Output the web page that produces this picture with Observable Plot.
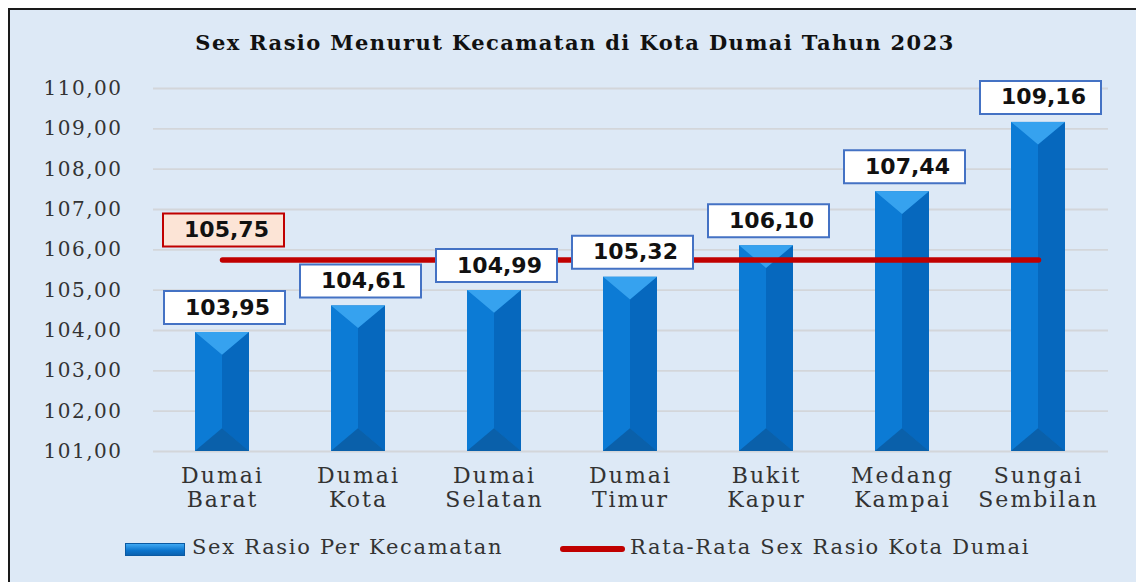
<!DOCTYPE html>
<html><head><meta charset="utf-8">
<script src="https://cdn.jsdelivr.net/npm/d3@7"></script>
<script src="https://cdn.jsdelivr.net/npm/@observablehq/plot@0.6"></script>
<style>
html,body{margin:0;padding:0;background:#fff;}
#wrap{position:relative;width:1136px;height:582px;overflow:hidden;}
#frame{position:absolute;left:8px;top:8px;width:1140px;height:590px;background:#dde9f6;border-left:2px solid #1a1a1a;border-top:2px solid #1a1a1a;}
#title{position:absolute;left:0;width:1150px;text-align:center;top:30px;font:bold 21px "DejaVu Serif",serif;letter-spacing:1.4px;color:#111;}
#chart{position:absolute;left:0;top:0;}
#chart svg g[aria-label="y-axis tick label"] text{letter-spacing:1.5px;}
#chart svg g[aria-label="x-axis tick label"] text{letter-spacing:2px;}
.leg{position:absolute;font:21px "DejaVu Serif",serif;letter-spacing:1.7px;color:#333;white-space:nowrap;}
#sw1{position:absolute;left:125px;top:543px;width:58px;height:11px;background:linear-gradient(to bottom,#3fa8f2,#0b74cc 60%,#0a62b0);border:1px solid #0a5aa3;}
#sw2{position:absolute;left:560px;top:546px;width:65px;height:6px;background:#c00000;border-radius:3px;}
</style></head>
<body>
<div id="wrap">
  <div id="frame"></div>
  <div id="title"></div>
  <div id="chart"></div>
  <div id="sw1"></div><div class="leg" id="l1" style="left:192px;top:535px;"></div>
  <div id="sw2"></div><div class="leg" id="l2" style="left:630px;top:535px;"></div>
</div>
<script>
const title = "Sex Rasio Menurut Kecamatan di Kota Dumai Tahun 2023";
const categories = ["Dumai Barat","Dumai Kota","Dumai Selatan","Dumai Timur","Bukit Kapur","Medang Kampai","Sungai Sembilan"];
const values = [103.95,104.61,104.99,105.32,106.10,107.44,109.16];
const average = 105.75;
const yTicks = [101,102,103,104,105,106,107,108,109,110];
const seriesNames = ["Sex Rasio Per Kecamatan","Rata-Rata Sex Rasio Kota Dumai"];

document.getElementById("title").textContent = title;
document.getElementById("l1").textContent = seriesNames[0];
document.getElementById("l2").textContent = seriesNames[1];

const data = categories.map((c,i) => ({cat:c, v:values[i]}));
const avgData = [{cat:categories[0], v:average},{cat:categories[categories.length-1], v:average}];
const fmt = d => d.toFixed(2).replace(".", ",");

const boxSymbol = {draw(ctx){ ctx.moveTo(-60.5,-16.5); ctx.lineTo(60.5,-16.5); ctx.lineTo(60.5,16.5); ctx.lineTo(-60.5,16.5); ctx.closePath(); }};

const ns = "http://www.w3.org/2000/svg";
function poly(g, pts, fill){
  const p = document.createElementNS(ns,"polygon");
  p.setAttribute("points", pts.map(q=>q.join(",")).join(" "));
  p.setAttribute("fill", fill);
  g.appendChild(p);
}

const chart = Plot.plot({
  width: 1136,
  height: 520,
  marginLeft: 153,
  marginRight: 28,
  marginTop: 88,
  marginBottom: 69,
  style: {background:"transparent", fontFamily:"'DejaVu Serif', serif", overflow:"visible"},
  x: {domain: categories, paddingInner: 0.6, paddingOuter: 0.3, label: null},
  y: {domain: [yTicks[0], yTicks[yTicks.length-1]], label: null},
  marks: [
    Plot.ruleY(yTicks, {stroke:"#d3d6da", strokeWidth:1.8}),
    Plot.axisY({ticks: yTicks, tickFormat: fmt, tickSize: 0, tickPadding: 31, fontSize: 20, fill:"#333", label: null}),
    Plot.axisX({tickSize: 0, tickPadding: 15, tickFormat: d => d.replace(" ", "\n"), fontSize: 22, lineHeight: 1.08, fill:"#333", label: null}),
    Plot.barY(data, {x:"cat", y1: yTicks[0], y2:"v", fill:"#0a74cc",
      render(index, scales, vals, dims, context, next){
        const g = next(index, scales, vals, dims, context);
        for (const r of Array.from(g.querySelectorAll("rect"))) {
          const x = +r.getAttribute("x"), y = +r.getAttribute("y"), w = +r.getAttribute("width"), h = +r.getAttribute("height");
          const b = w*0.42, cx = x + w/2;
          poly(g, [[x,y],[cx,y+b],[cx,y+h-b],[x,y+h]], "#0c7bd5");
          poly(g, [[x+w,y],[cx,y+b],[cx,y+h-b],[x+w,y+h]], "#0668be");
          poly(g, [[x,y],[x+w,y],[cx,y+b]], "#36a2ef");
          poly(g, [[x,y+h],[x+w,y+h],[cx,y+h-b]], "#0a60aa");
        }
        return g;
      }}),
    Plot.line(avgData, {x:"cat", y:"v", stroke:"#c00000", strokeWidth:5.5, strokeLinecap:"round"}),
    Plot.dot(data, {x:"cat", y:"v", symbol: boxSymbol, r: 1, dy:-25, dx:2, fill:"#fff", stroke:"#4472c4", strokeWidth:2}),
    Plot.text(data, {x:"cat", y:"v", text: d => fmt(d.v), dy:-25, dx:5, fontSize:22, fontWeight:"bold", fontFamily:"'DejaVu Sans', sans-serif", fill:"#111"}),
    Plot.dot([avgData[0]], {x:"cat", y:"v", symbol: boxSymbol, r: 1, dy:-30, dx:1, fill:"#fce4d6", stroke:"#c00000", strokeWidth:2}),
    Plot.text([avgData[0]], {x:"cat", y:"v", text: d => fmt(d.v), dy:-30, dx:4, fontSize:22, fontWeight:"bold", fontFamily:"'DejaVu Sans', sans-serif", fill:"#111"})
  ]
});
document.getElementById("chart").appendChild(chart);
</script>
</body></html>
